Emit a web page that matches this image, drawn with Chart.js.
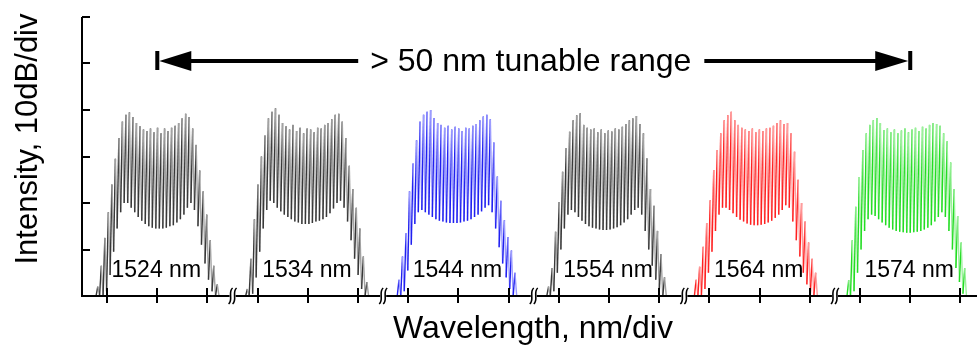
<!DOCTYPE html>
<html>
<head>
<meta charset="utf-8">
<title>Tunable comb spectra</title>
<script src="https://cdn.jsdelivr.net/npm/chart.js@4.4.1/dist/chart.umd.min.js"></script>
<style>
    html, body { margin: 0; padding: 0; background: #fff; }
    #spectra-chart { display: block; }
</style>
</head>
<body>
<canvas id="spectra-chart" width="980" height="351"></canvas>
<script>
// Centre wavelength of each spectrum (nm)
const wavelengths = [1524, 1534, 1544, 1554, 1564, 1574];

// Start of each trace on the x axis (divisions from the first tick)
const traceStarts = [-0.22, 2.76, 5.78, 8.76, 11.70, 14.74];
const lineSpacing = 0.07; // comb line spacing, div

// Peak of every comb line and the dip between lines (10 dB/div above the floor)
const peaks1524 = [0.2, 0.65, 1.25, 1.8, 2.4, 2.95, 3.4, 3.75, 3.9, 3.95, 3.85, 3.72, 3.65, 3.58, 3.55, 3.6, 3.52, 3.62,
    3.5, 3.6, 3.55, 3.62, 3.66, 3.72, 3.82, 3.92, 3.85, 3.6, 3.25, 2.7, 2.25, 1.75, 1.2, 0.65, 0.25];
const troughs1524 = [0, 0, 0, 0.1, 0.45, 0.95, 1.45, 1.8, 2.0, 2.0, 1.9, 1.8, 1.7, 1.62, 1.55, 1.5, 1.47, 1.45,
    1.45, 1.45, 1.47, 1.5, 1.52, 1.58, 1.65, 1.75, 1.9, 2.0, 1.85, 1.5, 1.1, 0.7, 0.35, 0.1, 0, 0];

const peaks1534 = [0.15, 0.8, 1.65, 2.4, 3.0, 3.45, 3.82, 3.96, 4.04, 3.9, 3.72, 3.65, 3.58, 3.68, 3.55, 3.62, 3.5, 3.6,
    3.58, 3.52, 3.62, 3.6, 3.68, 3.72, 3.8, 3.9, 3.92, 3.75, 3.4, 2.8, 2.3, 1.9, 1.45, 0.85, 0.3];
const troughs1534 = [0, 0, 0.05, 0.4, 0.95, 1.45, 1.85, 2.05, 2.0, 1.9, 1.82, 1.75, 1.7, 1.65, 1.6, 1.58, 1.55, 1.55,
    1.55, 1.57, 1.6, 1.62, 1.65, 1.7, 1.78, 1.88, 2.0, 2.05, 1.9, 1.6, 1.2, 0.8, 0.45, 0.15, 0, 0];

const peaks1544 = [0.35, 0.85, 1.35, 2.25, 2.85, 3.35, 3.75, 3.9, 3.96, 4.0, 3.83, 3.72, 3.68, 3.62, 3.66, 3.58, 3.64,
    3.6, 3.55, 3.62, 3.6, 3.66, 3.7, 3.78, 3.86, 3.9, 3.8, 3.3, 2.57, 2.05, 1.63, 1.27, 0.98, 0.5];
const troughs1544 = [0, 0, 0.1, 0.55, 1.1, 1.55, 1.8, 1.85, 1.8, 1.75, 1.7, 1.65, 1.62, 1.6, 1.58, 1.57, 1.57, 1.57,
    1.58, 1.6, 1.62, 1.65, 1.7, 1.75, 1.82, 1.9, 1.95, 1.8, 1.45, 1.05, 0.7, 0.4, 0.15, 0, 0];

const peaks1554 = [0.2, 0.6, 1.38, 2.02, 2.67, 3.18, 3.53, 3.78, 3.89, 3.93, 3.68, 3.62, 3.58, 3.6, 3.52, 3.58, 3.5,
    3.56, 3.54, 3.6, 3.58, 3.64, 3.7, 3.78, 3.82, 3.87, 3.7, 3.5, 2.96, 2.3, 1.94, 1.4, 0.9, 0.4];
const troughs1554 = [0, 0, 0.1, 0.5, 1.0, 1.45, 1.75, 1.85, 1.8, 1.7, 1.62, 1.55, 1.5, 1.47, 1.45, 1.43, 1.42, 1.42,
    1.43, 1.45, 1.48, 1.52, 1.58, 1.65, 1.75, 1.85, 1.9, 1.75, 1.4, 1.0, 0.65, 0.35, 0.1, 0, 0];

const peaks1564 = [0.35, 0.63, 1.06, 1.57, 2.06, 2.71, 3.14, 3.5, 3.78, 3.89, 3.96, 3.78, 3.68, 3.62, 3.58, 3.55, 3.6,
    3.52, 3.58, 3.55, 3.6, 3.62, 3.66, 3.72, 3.78, 3.7, 3.72, 3.5, 3.1, 2.5, 2.0, 1.6, 1.15, 0.8, 0.5];
const troughs1564 = [0, 0, 0, 0.15, 0.5, 0.95, 1.4, 1.75, 1.9, 1.9, 1.85, 1.78, 1.7, 1.64, 1.6, 1.56, 1.53, 1.52,
    1.52, 1.53, 1.55, 1.58, 1.62, 1.68, 1.75, 1.85, 1.95, 1.9, 1.6, 1.2, 0.85, 0.5, 0.25, 0.05, 0, 0];

const peaks1574 = [0.34, 1.2, 1.92, 2.56, 3.14, 3.5, 3.68, 3.78, 3.83, 3.72, 3.57, 3.6, 3.52, 3.58, 3.5, 3.56, 3.6,
    3.52, 3.58, 3.62, 3.55, 3.64, 3.6, 3.68, 3.72, 3.7, 3.66, 3.5, 3.33, 2.87, 2.3, 1.72, 1.15, 0.6];
const troughs1574 = [0, 0, 0.1, 0.5, 1.0, 1.4, 1.65, 1.75, 1.72, 1.65, 1.58, 1.52, 1.47, 1.43, 1.4, 1.38, 1.37, 1.36,
    1.36, 1.37, 1.38, 1.4, 1.43, 1.47, 1.52, 1.6, 1.7, 1.8, 1.7, 1.4, 1.0, 0.6, 0.3, 0.05, 0];

// Axis ticks, breaks and the tunable-range arrow (axis units)
const xTicks = [0, 1, 2, 3, 4, 5, 6, 7, 8, 9, 10, 11, 12, 13, 14, 15, 16, 17];
const yTicks = [1, 2, 3, 4, 5, 6];
const axisBreaks = [2.5, 5.5, 8.5, 11.5, 14.5];
const labelTicks = [1, 4, 7, 10, 13, 16];
const arrowFrom = 1;
const arrowTo = 16;
const arrowLevel = 5.05;

const allPeaks = [peaks1524, peaks1534, peaks1544, peaks1554, peaks1564, peaks1574];
const allTroughs = [troughs1524, troughs1534, troughs1544, troughs1554, troughs1564, troughs1574];

// Dark stroke going up, light stroke coming down
const traceColors = [
    ['#383838', '#a2a2a2'],
    ['#383838', '#a2a2a2'],
    ['#2020f0', '#9c9cff'],
    ['#383838', '#a2a2a2'],
    ['#ff2020', '#ff9c9c'],
    ['#22dd22', '#9cf09c']
];

const FONT = '"Liberation Sans", Arial, sans-serif';

function combPoints(start, peaks, troughs) {
    const pts = [];
    troughs.forEach((t, j) => {
        pts.push({ x: start + j * lineSpacing, y: t });
        if (j < peaks.length) {
            pts.push({ x: start + (j + 0.5) * lineSpacing, y: peaks[j] });
        }
    });
    return pts;
}

const datasets = wavelengths.map((wl, i) => ({
    label: wl + ' nm',
    data: combPoints(traceStarts[i], allPeaks[i], allTroughs[i]),
    borderWidth: 1.4,
    pointRadius: 0,
    tension: 0,
    fill: false,
    segment: {
        borderColor: c => (c.p1.parsed.y > c.p0.parsed.y ? traceColors[i][0] : traceColors[i][1])
    }
}));

// Axes with inward ticks, broken x axis, labels and the range arrow
const frameAndNotes = {
    id: 'frameAndNotes',
    afterDatasetsDraw(chart) {
        const { ctx, scales: { x, y } } = chart;
        const base = y.getPixelForValue(0);
        const top = y.getPixelForValue(6);
        const left = x.left;
        const right = x.right;

        ctx.save();
        ctx.strokeStyle = '#000';
        ctx.fillStyle = '#000';

        // axis lines
        ctx.lineWidth = 2;
        ctx.beginPath();
        ctx.moveTo(left, top);
        ctx.lineTo(left, base);
        ctx.lineTo(right, base);
        ctx.stroke();

        // y ticks point into the plot
        ctx.beginPath();
        yTicks.forEach(v => {
            const py = Math.round(y.getPixelForValue(v));
            ctx.moveTo(left, py);
            ctx.lineTo(left + 8, py);
        });
        // x ticks cross the axis
        xTicks.forEach(v => {
            const px = Math.round(x.getPixelForValue(v));
            ctx.moveTo(px, base - 8);
            ctx.lineTo(px, base + 7);
        });
        ctx.stroke();

        // axis breaks
        axisBreaks.forEach(v => {
            const px = x.getPixelForValue(v);
            ctx.fillStyle = '#fff';
            ctx.fillRect(px - 3, base - 2, 6, 4);
            ctx.lineWidth = 1.6;
            [-2, 2].forEach(dx => {
                ctx.beginPath();
                ctx.moveTo(px + dx - 2, base + 8);
                ctx.bezierCurveTo(px + dx + 3, base + 4, px + dx - 3, base - 4, px + dx + 2, base - 8);
                ctx.stroke();
            });
        });
        ctx.fillStyle = '#000';

        // wavelength labels
        ctx.font = '23px ' + FONT;
        ctx.textAlign = 'center';
        ctx.textBaseline = 'alphabetic';
        wavelengths.forEach((wl, i) => {
            ctx.fillText(wl + ' nm', x.getPixelForValue(labelTicks[i]) - 1, base - 19);
        });

        // tunable range arrow
        const ay = Math.round(y.getPixelForValue(arrowLevel));
        const ax0 = x.getPixelForValue(arrowFrom);
        const ax1 = x.getPixelForValue(arrowTo);
        const text = '> 50 nm tunable range';
        ctx.font = '32px ' + FONT;
        const tw = ctx.measureText(text).width;
        const mid = (ax0 + ax1) / 2 - 4;
        ctx.lineWidth = 4;
        ctx.beginPath();
        ctx.moveTo(ax0 + 30, ay);
        ctx.lineTo(mid - tw / 2 - 11, ay);
        ctx.moveTo(mid + tw / 2 + 14, ay);
        ctx.lineTo(ax1 - 30, ay);
        ctx.stroke();
        ctx.beginPath();
        ctx.moveTo(ax0 + 2, ay);
        ctx.lineTo(ax0 + 34, ay - 10);
        ctx.lineTo(ax0 + 34, ay + 10);
        ctx.closePath();
        ctx.moveTo(ax1 - 2, ay);
        ctx.lineTo(ax1 - 35, ay - 10);
        ctx.lineTo(ax1 - 35, ay + 10);
        ctx.closePath();
        ctx.fill();
        ctx.fillRect(ax0 - 2, ay - 10, 4, 19);
        ctx.fillRect(ax1 - 2, ay - 10, 4, 19);
        ctx.fillText(text, mid + 1, ay + 10);

        // axis titles
        ctx.font = '32px ' + FONT;
        ctx.fillText('Wavelength, nm/div', 533, 338);
        ctx.font = '31px ' + FONT;
        ctx.translate(37, 139);
        ctx.rotate(-Math.PI / 2);
        ctx.fillText('Intensity, 10dB/div', 0, 0);
        ctx.restore();
    }
};

const ctx = document.getElementById('spectra-chart').getContext('2d');
const chart = new Chart(ctx, {
    type: 'line',
    data: { datasets: datasets },
    options: {
        responsive: false,
        animation: false,
        layout: {
            padding: { left: 82, right: 3, top: 17, bottom: 55 }
        },
        plugins: {
            legend: { display: false },
            tooltip: { enabled: false }
        },
        scales: {
            x: {
                type: 'linear',
                min: -0.5,
                max: 17.33,
                display: false
            },
            y: {
                min: 0,
                max: 6,
                display: false
            }
        }
    },
    plugins: [frameAndNotes]
});
</script>
</body>
</html>
